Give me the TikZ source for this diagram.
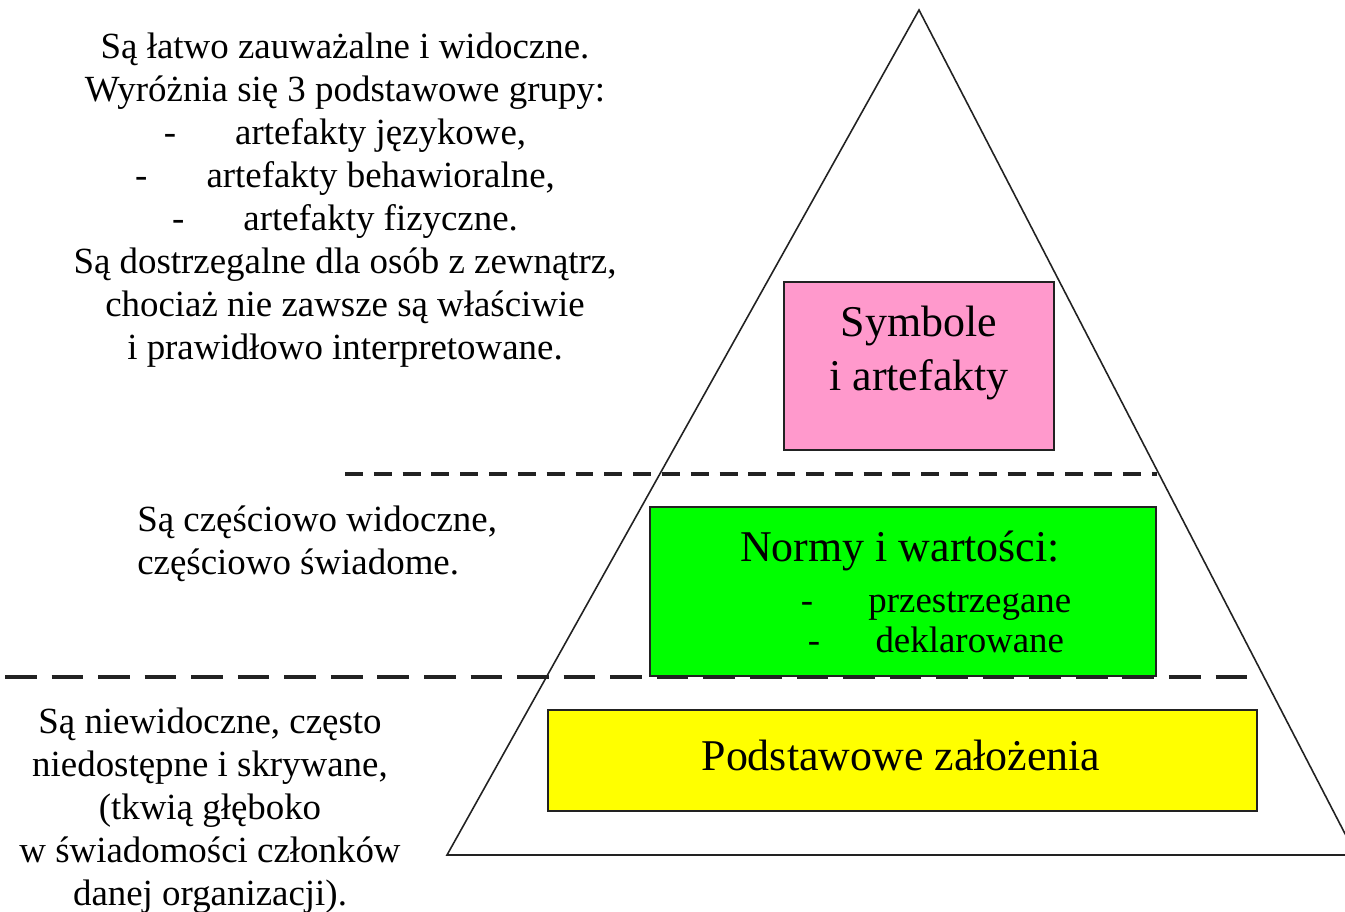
\documentclass[tikz,border=0pt]{standalone}
\usepackage{fontspec}
\setmainfont{Liberation Serif}
\definecolor{pinkc}{HTML}{FF99CC}
\definecolor{greenc}{HTML}{00FF00}
\definecolor{yellowc}{HTML}{FFFF00}
\definecolor{linec}{HTML}{222222}
\begin{document}
\begin{tikzpicture}[x=0.02cm,y=-0.02cm,
  tri/.style={draw=linec, line width=0.9pt},
  box/.style={draw=linec, line width=1.1pt, inner sep=0pt},
  txt/.style={font=\fontsize{21}{24.5}\selectfont, align=center, inner sep=0pt, text=black},
  boxtxt/.style={font=\fontsize{25}{30.6}\selectfont, align=center, inner sep=0pt, text=black},
  dashA/.style={draw=linec, line width=2pt, dash pattern=on 10.2pt off 6.2pt},
  dashB/.style={draw=linec, line width=2.8pt, dash pattern=on 18pt off 8.5pt}]
\useasboundingbox (0,0) rectangle (1345,912);
\fill[white] (0,0) rectangle (1345,912);
% pyramid
\coordinate (apex) at (919,10);
\coordinate (bl) at (447,855);
\coordinate (br) at (1356,855);
\begin{scope}
\clip (0,0) rectangle (1345,912);
\draw[tri] (apex) -- (bl) -- (br) -- cycle;
\end{scope}
% boxes
\node[box, fill=pinkc, minimum width=5.4cm, minimum height=3.36cm] (sym) at (919,366) {};
\node[boxtxt] (symt) at (919,353) {Symbole\\i artefakty};
\node[box, fill=greenc, minimum width=10.12cm, minimum height=3.38cm] (norm) at (903,591.5) {};
\node[boxtxt] (normt) at (900,551) {Normy i wartości:};
\node[txt, font=\fontsize{21}{23}\selectfont] (items) at (936,622) {-\hspace{1.5em}przestrzegane\\-\hspace{1.5em}deklarowane};
\node[box, fill=yellowc, minimum width=14.18cm, minimum height=2.02cm] (base) at (902.5,760.5) {};
\node[boxtxt] (baset) at (901,755) {Podstawowe założenia};
% dashed separators
\coordinate (d1a) at (345,474);
\coordinate (d1b) at (1157,474);
\coordinate (d2a) at (5,677);
\coordinate (d2b) at (1258,677);
\draw[dashA] (d1a) -- (d1b);
\draw[dashB] (d2a) -- (d2b);
% left descriptions
\node[txt] (t1) at (345,200) {Są łatwo zauważalne i widoczne.\\Wyróżnia się 3 podstawowe grupy:\\-\hspace{1.6em}artefakty językowe,\\-\hspace{1.6em}artefakty behawioralne,\\-\hspace{1.6em}artefakty fizyczne.\\Są dostrzegalne dla osób z zewnątrz,\\chociaż nie zawsze są właściwie\\i prawidłowo interpretowane.};
\node[txt, align=left, anchor=west] (t2) at (137,544) {Są częściowo widoczne,\\częściowo świadome.};
\node[txt] (t3) at (210,811) {Są niewidoczne, często\\niedostępne i skrywane,\\(tkwią głęboko\\w świadomości członków\\danej organizacji).};
\end{tikzpicture}
\end{document}
